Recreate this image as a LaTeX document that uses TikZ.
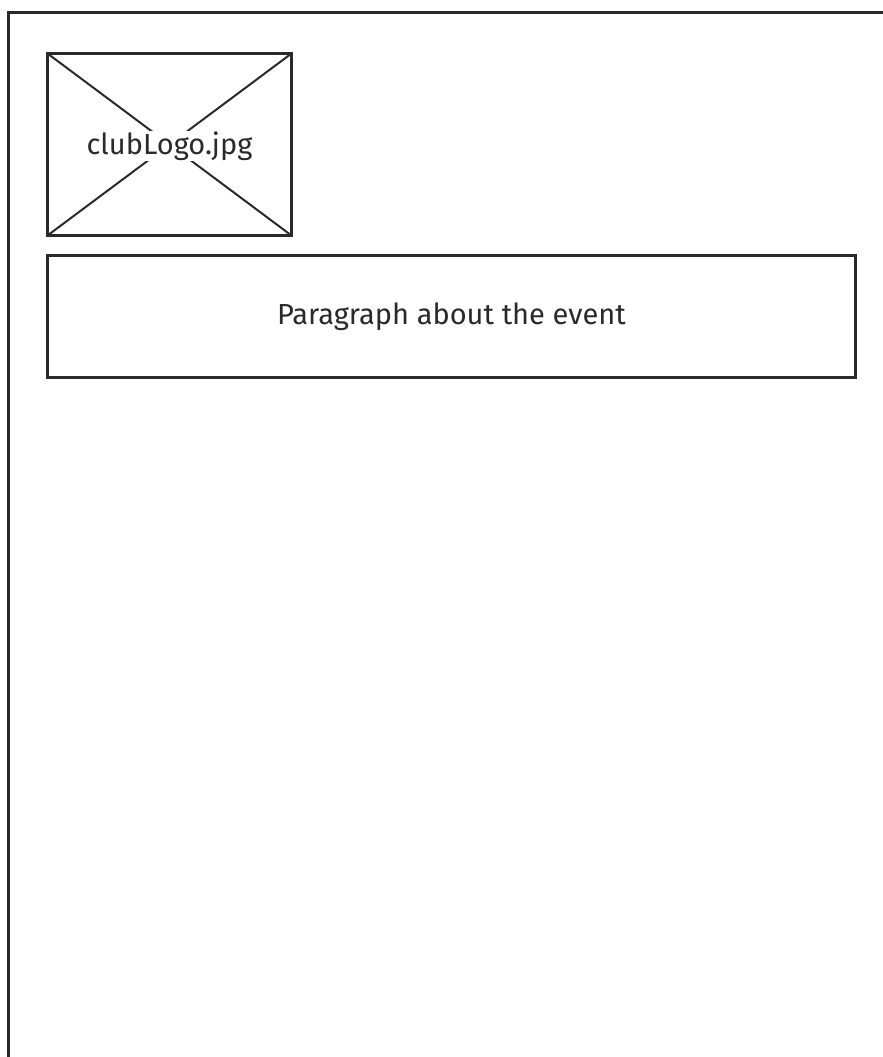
\documentclass[tikz,border=0pt]{standalone}
\usepackage{fontspec}
\setmainfont{Fira Sans}
\definecolor{ink}{HTML}{2A2A2A}
\tikzset{
  box/.style={draw=ink, line width=2.4pt},
  lbl/.style={text=ink, font=\fontsize{29}{34}\selectfont, inner sep=2pt},
}
\begin{document}
\begin{tikzpicture}[x=1pt,y=-1pt]
\useasboundingbox (0,0) rectangle (883,1057);
\fill[white] (0,0) rectangle (883,1057);
% outer page frame (cut at right and bottom)
\coordinate (fbl) at (8.5,1060);
\coordinate (ftl) at (8.5,12.5);
\coordinate (ftr) at (886,12.5);
\draw[box] (fbl) -- (ftl) -- (ftr);
% image placeholder
\coordinate (i1) at (47.5,53.5);
\coordinate (i2) at (291.5,53.5);
\coordinate (i3) at (291.5,235.5);
\coordinate (i4) at (47.5,235.5);
\draw[box] (i1) rectangle (i3);
\draw[draw=ink, line width=2pt] (i1) -- (i3) (i2) -- (i4);
\node[lbl, fill=white, inner xsep=2pt, inner ysep=1pt] (logo) at (169.5,146) {clubLogo.jpg};
% paragraph box
\coordinate (p1) at (47.5,255.5);
\coordinate (p2) at (855.5,377.5);
\draw[box] (p1) rectangle (p2);
\node[lbl] (ptext) at (451.5,316.5) {Paragraph about the event};
\end{tikzpicture}
\end{document}
